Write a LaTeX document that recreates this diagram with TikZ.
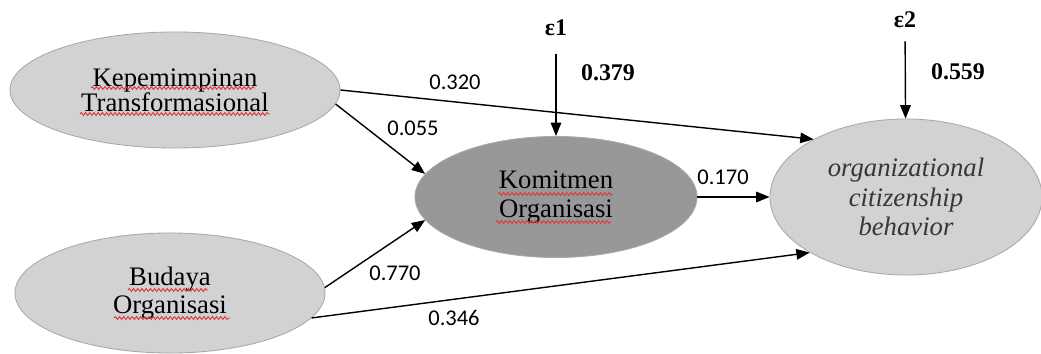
\documentclass[tikz,border=0pt]{standalone}
\usepackage{fontspec}
\setmainfont{Liberation Serif}[UprightFont={Liberation Serif}, BoldFont={Liberation Serif Bold},
    ItalicFont={Liberation Serif Italic}, BoldItalicFont={Liberation Serif Bold Italic}]
\newfontfamily\coeffont{Carlito}
\usepackage{tikz}
\usetikzlibrary{positioning, calc, shapes.geometric, arrows.meta}
\usetikzlibrary{decorations.pathmorphing}

\definecolor{lightfill}{RGB}{210,210,210}
\definecolor{darkfill}{RGB}{152,152,152}
\definecolor{rimgray}{RGB}{168,168,168}
\definecolor{spellred}{RGB}{222,60,60}
\definecolor{ocbtext}{RGB}{55,55,55}

\begin{document}
\begin{tikzpicture}[
            x=0.025cm, y=-0.025cm,
            varnode/.style = {ellipse, align=center, inner sep=0pt, draw=rimgray, line width=0.6pt,
                    fill=lightfill, font=\rmfamily\fontsize{19}{20}\selectfont},
            arr/.style = {-{Triangle[length=9.5pt, width=7.5pt]}, line width=1pt},
            coef/.style = {font=\coeffont\fontsize{16}{16}\selectfont},
            errnode/.style = {font=\rmfamily\bfseries\fontsize{17}{17}\selectfont},
            spell/.style = {draw=spellred, line width=0.7pt, decorate,
                    decoration={snake, amplitude=1pt, segment length=3pt}}
        ]
        \useasboundingbox (0,0) rectangle (1041,354);

        \node (kt)  [varnode, minimum width=8.25cm, minimum height=2.9cm, font=\rmfamily\fontsize{19}{18}\selectfont] at (175,90) {Kepemimpinan\\Transformasional};
        \node (bo)  [varnode, minimum width=7.75cm, minimum height=3cm] at (170,293) {Budaya\\Organisasi};
        \node (kom) [varnode, minimum width=7.05cm, minimum height=3.025cm, fill=darkfill] at (556,197) {Komitmen\\Organisasi};
        \node (ocb) [varnode, minimum width=6.8cm, minimum height=3.9cm, text=ocbtext,
                    font=\rmfamily\itshape\fontsize{19}{21}\selectfont] at (906,197) {organizational\\citizenship\\behavior};
        \node (e1)  [errnode] at (556,28) {ε1};
        \node (e2)  [errnode] at (905,20) {ε2};

        \draw[arr] (kt.east) -- (ocb.148);
        \draw[arr] (kt.-5)   -- (kom.170);
        \draw[arr] (bo.2)    -- (kom.190);
        \draw[arr] (bo.-10)  -- (ocb.210);
        \draw[arr] (kom)     -- (ocb);
        \draw[arr, shorten <=9pt] (e1) -- (kom);
        \draw[arr, shorten <=6pt] (e2) -- (ocb);

        \node (c320) [coef]    at (455,82)  {0.320};
        \node (c055) [coef]    at (413,128) {0.055};
        \node (c770) [coef]    at (395,273) {0.770};
        \node (c346) [coef]    at (454,318) {0.346};
        \node (c170) [coef]    at (723,177) {0.170};
        \node (r379) [errnode] at (608,73)  {0.379};
        \node (r559) [errnode] at (958,72)  {0.559};

        \draw[spell] ($(kt)+(-84,-2)$)  -- ($(kt)+(80,-2)$);
        \draw[spell] ($(kt)+(-95,24)$)  -- ($(kt)+(95,24)$);
        \draw[spell] ($(bo)+(-42,-3)$)  -- ($(bo)+(38,-3)$);
        \draw[spell] ($(bo)+(-56,25)$)  -- ($(bo)+(60,25)$);
        \draw[spell] ($(kom)+(-58,-3)$) -- ($(kom)+(57,-3)$);
        \draw[spell] ($(kom)+(-60,25)$) -- ($(kom)+(55,25)$);
    \end{tikzpicture}
\end{document}
